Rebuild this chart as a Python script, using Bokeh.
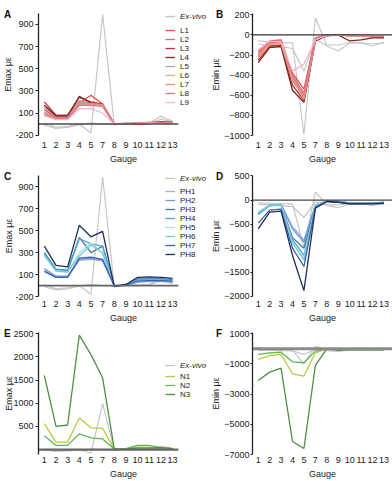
from bokeh.plotting import figure
from bokeh.layouts import gridplot
from bokeh.models import Range1d, FixedTicker, Legend, LegendItem, Title
from bokeh.embed import file_html
from bokeh.resources import INLINE

# Gauge positions (there is no gauge 6)
GAUGES = ["1", "2", "3", "4", "5", "7", "8", "9", "10", "11", "12", "13"]

# Ex-vivo reference specimens
EXVIVO1_EMAX = [10, -30, -20, 0, -80, 990, -10, 15, 5, 10, 70, 25]
EXVIVO2_EMAX = [-10, -40, -30, -5, 10, 0, -5, 10, 5, 5, 45, 20]
EXVIVO1_EMIN = [-60, -70, -75, -80, -990, 170, -100, -100, -75, -80, -110, -75]
EXVIVO2_EMIN = [-90, -100, -115, -135, -360, -40, -110, -160, -80, -80, -90, -80]

# L models
L1_EMAX = [130, 60, 60, 190, 260, 180, 0, 0, 10, 15, 20, 15]
L2_EMAX = [150, 70, 70, 210, 190, 180, 0, 5, 5, 10, 15, 10]
L3_EMAX = [200, 80, 80, 240, 200, 180, 0, 0, 5, 10, 20, 15]
L4_EMAX = [170, 75, 75, 250, 190, 175, 0, 0, 0, 5, 15, 10]
L5_EMAX = [110, 55, 55, 200, 185, 170, 0, 5, 10, 10, 10, 10]
L6_EMAX = [95, 50, 50, 180, 180, 175, 0, 5, 5, 10, 10, 10]
L7_EMAX = [100, 55, 50, 185, 185, 175, 0, 0, 10, 15, 10, 10]
L8_EMAX = [85, 50, 45, 170, 170, 160, 0, 0, 5, 10, 10, 10]
L9_EMAX = [75, 40, 40, 140, 140, 100, 0, 0, 5, 10, 5, 5]

L1_EMIN = [-160, -60, -50, -380, -540, -30, 0, 0, -5, -5, -10, -10]
L2_EMIN = [-200, -80, -70, -420, -600, -40, -5, 0, -5, -5, -10, -10]
L3_EMIN = [-250, -110, -100, -500, -650, -50, -5, 0, -10, -10, -20, -20]
L4_EMIN = [-275, -125, -115, -550, -670, -60, -10, 0, -60, -50, -30, -30]
L5_EMIN = [-220, -90, -80, -460, -620, -45, -5, 0, -5, -5, -10, -10]
L6_EMIN = [-230, -95, -85, -440, -640, -40, -5, 0, -10, -10, -15, -15]
L7_EMIN = [-210, -85, -75, -430, -630, -40, -5, 0, -10, -10, -10, -10]
L8_EMIN = [-180, -70, -60, -400, -580, -35, -5, 0, -5, -5, -10, -10]
L9_EMIN = [-150, -60, -70, -360, -290, -50, -5, 0, -5, -5, -5, -5]

# PH models
PH1_EMAX = [140, 80, 80, 230, 240, 225, 0, 5, 30, 35, 35, 30]
PH2_EMAX = [155, 85, 85, 240, 250, 230, 0, 5, 35, 40, 40, 35]
PH3_EMAX = [300, 150, 140, 440, 300, 360, -5, 5, 60, 65, 60, 55]
PH4_EMAX = [290, 145, 135, 430, 380, 360, -5, 5, 55, 60, 55, 50]
PH5_EMAX = [270, 130, 120, 300, 390, 290, 0, 5, 40, 45, 45, 40]
PH6_EMAX = [280, 135, 125, 270, 370, 300, 0, 5, 45, 50, 50, 45]
PH7_EMAX = [130, 75, 75, 250, 260, 240, -5, 5, 40, 45, 45, 40]
PH8_EMAX = [360, 185, 170, 550, 445, 495, -10, 10, 75, 80, 75, 65]

PH1_EMIN = [-250, -110, -95, -550, -830, -100, -20, -30, -60, -60, -60, -50]
PH2_EMIN = [-270, -105, -90, -600, -870, -110, -20, -30, -60, -60, -60, -50]
PH3_EMIN = [-290, -115, -100, -780, -1000, -130, -20, -40, -80, -80, -70, -60]
PH4_EMIN = [-300, -120, -105, -820, -1150, -130, -20, -40, -70, -70, -70, -60]
PH5_EMIN = [-260, -110, -90, -900, -1200, -110, -20, -30, -60, -60, -60, -50]
PH6_EMIN = [-270, -110, -95, -880, -1250, -120, -20, -30, -60, -60, -60, -50]
PH7_EMIN = [-480, -210, -190, -1000, -1380, -150, -30, -40, -70, -70, -70, -60]
PH8_EMIN = [-600, -250, -230, -1150, -1880, -170, -30, -50, -80, -80, -80, -70]

# N models
N1_EMAX = [560, 160, 160, 680, 470, 460, 10, 20, 50, 50, 30, 20]
N2_EMAX = [300, 90, 90, 340, 250, 230, 10, 20, 90, 90, 40, 20]
N3_EMAX = [1600, 500, 530, 2470, 2050, 1550, 10, 15, 30, 30, 40, 20]

N1_EMIN = [-700, -440, -370, -1650, -1800, -260, 0, -50, -50, -50, -50, -50]
N2_EMIN = [-370, -260, -220, -860, -920, -150, 0, -50, -50, -50, -50, -50]
N3_EMIN = [-2090, -1540, -1280, -6140, -6600, -1100, 0, -100, -50, -50, -50, -50]

L_NAMES = ["L1", "L2", "L3", "L4", "L5", "L6", "L7", "L8", "L9"]
L_COLORS = ["#e5504f", "#c27a7c", "#c4303a", "#7a2626", "#b89ca0",
            "#f2aa78", "#e98f7a", "#e07090", "#f2b6c8"]
PH_NAMES = ["PH1", "PH2", "PH3", "PH4", "PH5", "PH6", "PH7", "PH8"]
PH_COLORS = ["#9fb0e3", "#7398d8", "#3d7a9a", "#4aa6d8", "#abdce8",
             "#74c8d0", "#3b5fae", "#1f2b55"]
N_NAMES = ["N1", "N2", "N3"]
N_COLORS = ["#b6cd3e", "#62b65c", "#4f8f45"]

FONT = "Liberation Sans"
TEXT = "#222222"
EXVIVO_COLOR = "#c6c6c6"

# gauges sit at 1..12 along x, one unit apart
X = [i + 1 for i in range(len(GAUGES))]
X_LO = X[0] - 0.5
X_HI = X[-1] + 0.5
PX_PER_GAUGE = 12.0
LEGEND_ITEM_H = 9.65

ROWS = [
    dict(height=166, top=13, bottom=30, xstand=6),
    dict(height=159, top=9, bottom=27, xstand=4),
    dict(height=156, top=7, bottom=26, xstand=2),
]
SIDES = {
    "left": dict(width=208, lb=33, rb=0, tick_out=3, stand=2, letter_dx=-34.5),
    "right": dict(width=184, lb=37, rb=0, tick_out=2, stand=1, letter_dx=-36.5),
}


def build(letter, ylabel, yr, ticks, overrides, exvivo, names, colors, series,
          side, row, ylabel_standoff, zero_color, zero_width, legend_at=None):
    s = SIDES[side]
    r = ROWS[row]
    frame_w = s["width"] - s["lb"] - s["rb"]
    frame_h = r["height"] - r["top"] - r["bottom"]
    x_end = X_LO + frame_w / PX_PER_GAUGE
    p = figure(width=s["width"], height=r["height"],
               x_range=Range1d(X_LO, x_end), y_range=Range1d(*yr),
               output_backend="svg", toolbar_location=None,
               min_border_left=s["lb"], min_border_right=s["rb"],
               min_border_top=r["top"], min_border_bottom=r["bottom"],
               outline_line_color=None, background_fill_color="white",
               border_fill_color="white")
    p.xgrid.visible = False
    p.ygrid.visible = False

    # panel letter, pulled down beside the top of the y axis
    p.add_layout(Title(text=letter, align="left", offset=s["letter_dx"],
                       standoff=-12, text_font=FONT, text_font_size="10px",
                       text_font_style="bold", text_color="#111111"), "above")

    ex_r = [p.line(X, vals, line_color=EXVIVO_COLOR, line_width=1.2)
            for vals in exvivo]
    ser_r = [p.line(X, vals, line_color=c, line_width=1.3)
             for vals, c in zip(series, colors)]

    zero_end = X_HI if side == "left" else x_end
    p.line([X_LO, zero_end], [0, 0], line_color=zero_color, line_width=zero_width)

    xa = p.xaxis[0]
    xa.ticker = FixedTicker(ticks=X)
    xa.major_label_overrides = {x: g for x, g in zip(X, GAUGES)}
    xa.axis_line_color = None
    xa.major_tick_line_color = None
    xa.minor_tick_line_color = None
    xa.major_tick_out = 0
    xa.major_tick_in = 0
    xa.major_label_standoff = r["xstand"]
    xa.major_label_text_font = FONT
    xa.major_label_text_font_size = "9px"
    xa.major_label_text_color = TEXT
    xa.axis_label = "Gauge"
    xa.axis_label_standoff = 3
    xa.axis_label_text_font = FONT
    xa.axis_label_text_font_size = "9px"
    xa.axis_label_text_font_style = "normal"
    xa.axis_label_text_color = TEXT

    ya = p.yaxis[0]
    ya.ticker = FixedTicker(ticks=ticks)
    if overrides:
        ya.major_label_overrides = overrides
    ya.axis_line_color = "#222222"
    ya.axis_line_width = 1.3
    ya.major_tick_line_color = "#222222"
    ya.major_tick_out = s["tick_out"]
    ya.major_tick_in = 0
    ya.minor_tick_line_color = None
    ya.major_label_standoff = s["stand"]
    ya.major_label_text_font = FONT
    ya.major_label_text_font_size = "9px"
    ya.major_label_text_color = TEXT
    ya.axis_label = ylabel
    ya.axis_label_standoff = ylabel_standoff
    ya.axis_label_text_font = FONT
    ya.axis_label_text_font_size = "9px"
    ya.axis_label_text_font_style = "normal"
    ya.axis_label_text_color = TEXT

    if legend_at is not None:
        vx, top_ex, top_rest = legend_at
        common = dict(orientation="vertical", padding=0, margin=0, spacing=0,
                      glyph_width=10, glyph_height=8, label_height=8,
                      label_standoff=5, label_text_font=FONT,
                      label_text_font_size="8px", label_text_color=TEXT,
                      border_line_color=None, background_fill_alpha=0)
        leg1 = Legend(items=[LegendItem(label="Ex-vivo", renderers=ex_r)],
                      location=(vx, frame_h - top_ex - LEGEND_ITEM_H),
                      label_text_font_style="italic", **common)
        leg2 = Legend(items=[LegendItem(label=n, renderers=[rr])
                             for n, rr in zip(names, ser_r)],
                      location=(vx, frame_h - top_rest - LEGEND_ITEM_H * len(names)),
                      label_text_font_style="normal", **common)
        p.add_layout(leg1)
        p.add_layout(leg2)
    return p


L_EMAX = [L1_EMAX, L2_EMAX, L3_EMAX, L4_EMAX, L5_EMAX, L6_EMAX, L7_EMAX, L8_EMAX, L9_EMAX]
L_EMIN = [L1_EMIN, L2_EMIN, L3_EMIN, L4_EMIN, L5_EMIN, L6_EMIN, L7_EMIN, L8_EMIN, L9_EMIN]
PH_EMAX = [PH1_EMAX, PH2_EMAX, PH3_EMAX, PH4_EMAX, PH5_EMAX, PH6_EMAX, PH7_EMAX, PH8_EMAX]
PH_EMIN = [PH1_EMIN, PH2_EMIN, PH3_EMIN, PH4_EMIN, PH5_EMIN, PH6_EMIN, PH7_EMIN, PH8_EMIN]
N_EMAX = [N1_EMAX, N2_EMAX, N3_EMAX]
N_EMIN = [N1_EMIN, N2_EMIN, N3_EMIN]

EMAX_LABEL = "Emax \u03bc\u03b5"
EMIN_LABEL = "Emin \u03bc\u03b5"

pA = build("A", EMAX_LABEL, (-103, 998), [-100, 100, 300, 500, 700, 900], {-100: "-200"},
           [EXVIVO1_EMAX, EXVIVO2_EMAX], L_NAMES, L_COLORS, L_EMAX,
           "left", 0, -1, "#4a4a4a", 1.5, legend_at=(127, -1.0, 8.0))
pB = build("B", EMIN_LABEL, (-1000, 213), [-1000, -800, -600, -400, -200, 0, 200], None,
           [EXVIVO1_EMIN, EXVIVO2_EMIN], L_NAMES, L_COLORS, L_EMIN,
           "right", 0, 0, "#333333", 1.2)
pC = build("C", EMAX_LABEL, (-100, 1005), [-100, 100, 300, 500, 700, 900], {-100: "-200"},
           [EXVIVO1_EMAX, EXVIVO2_EMAX], PH_NAMES, PH_COLORS, PH_EMAX,
           "left", 1, -2, "#666666", 1.8, legend_at=(127, 0.0, 8.5))
pD = build("D", EMIN_LABEL, (-2003, 510), [-2000, -1500, -1000, -500, 0, 500], None,
           [EXVIVO1_EMIN, EXVIVO2_EMIN], PH_NAMES, PH_COLORS, PH_EMIN,
           "right", 1, 0, "#444444", 1.3)
pE = build("E", EMAX_LABEL, (-107, 2528), [500, 1000, 1500, 2000, 2500], None,
           [EXVIVO1_EMAX, EXVIVO2_EMAX], N_NAMES, N_COLORS, N_EMAX,
           "left", 2, -4, "#666666", 2.2, legend_at=(127, 29.2, 38.8))
pF = build("F", EMIN_LABEL, (-7000, 1085), [-7000, -5000, -3000, -1000, 1000], None,
           [EXVIVO1_EMIN, EXVIVO2_EMIN], N_NAMES, N_COLORS, N_EMIN,
           "right", 2, 0, "#8a8a8a", 3)

grid = gridplot([[pA, pB], [pC, pD], [pE, pF]], toolbar_location=None)

open("out.html", "w").write(file_html(grid, INLINE))
